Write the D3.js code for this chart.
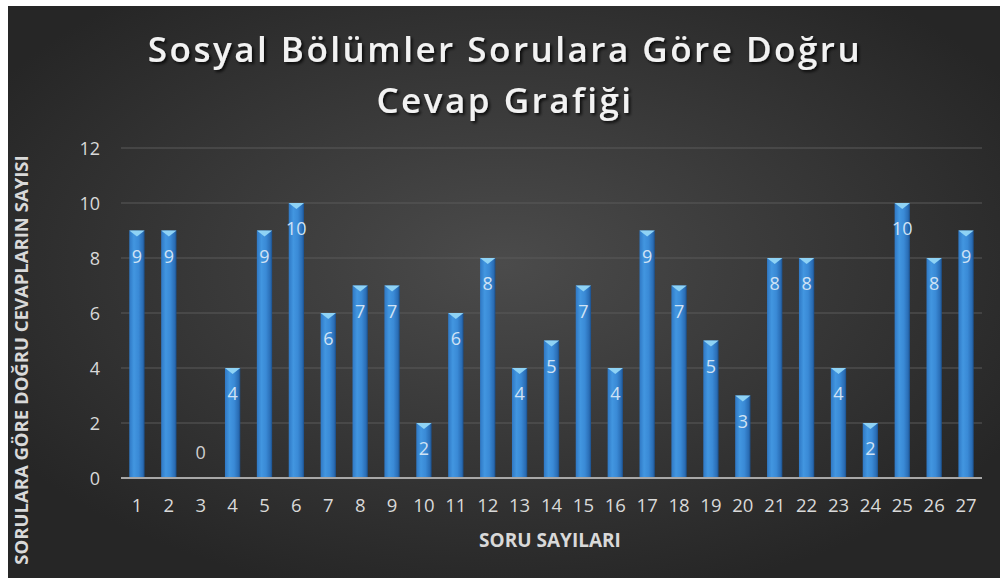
<!DOCTYPE html>
<html><head><meta charset="utf-8">
<script src="https://cdn.jsdelivr.net/npm/d3@7"></script>
<style>html,body{margin:0;padding:0;background:#fff;}svg{display:block;}</style>
</head><body>
<script>
const categories = ["1","2","3","4","5","6","7","8","9","10","11","12","13","14","15","16","17","18","19","20","21","22","23","24","25","26","27"];
const values = [9,9,0,4,9,10,6,7,7,2,6,8,4,5,7,4,9,7,5,3,8,8,4,2,10,8,9];
const yTicks = [0,2,4,6,8,10,12];
const titleLines = ["Sosyal Bölümler Sorulara Göre Doğru","Cevap Grafiği"];
const xTitle = "SORU SAYILARI";
const yTitle = "SORULARA GÖRE DOĞRU CEVAPLARIN SAYISI";

const W=1000,H=578;
const svg=d3.select("body").append("svg").attr("width",W).attr("height",H);
const defs=svg.append("defs");
const rg=defs.append("radialGradient").attr("id","bg").attr("cx","50%").attr("cy","45%").attr("r","60%");
rg.append("stop").attr("offset","0%").attr("stop-color","#4b4b4b");
rg.append("stop").attr("offset","100%").attr("stop-color","#262626");
const bg=defs.append("linearGradient").attr("id","bar").attr("x1","0").attr("x2","1").attr("y1","0").attr("y2","0");
[["0%","#2f78c4"],["30%","#4296e0"],["60%","#3a8ad6"],["88%","#2a6db5"],["100%","#1b4f8a"]].forEach(s=>bg.append("stop").attr("offset",s[0]).attr("stop-color",s[1]));
const sh=defs.append("filter").attr("id","tsh").attr("x","-10%").attr("y","-30%").attr("width","120%").attr("height","160%");
sh.append("feDropShadow").attr("dx",2).attr("dy",2).attr("stdDeviation",1.5).attr("flood-color","#000").attr("flood-opacity",0.8);

svg.append("rect").attr("x",8).attr("y",6).attr("width",W-8).attr("height",H-6).attr("fill","url(#bg)");

const x=d3.scaleBand().domain(categories).range([121,982]).paddingInner(0.52).paddingOuter(0.26);
const y=d3.scaleLinear().domain([0,12]).range([478,148]);
const font="'Open Sans',sans-serif";

// gridlines
svg.append("g").selectAll("line").data(yTicks.filter(t=>t>0)).join("line")
 .attr("x1",121).attr("x2",982).attr("y1",d=>y(d)).attr("y2",d=>y(d))
 .attr("stroke","#5a5a5a").attr("stroke-width",1);

// y axis
const ya=svg.append("g").attr("transform","translate(100,0)").call(d3.axisLeft(y).tickValues(yTicks).tickSize(0).tickPadding(0));
ya.select(".domain").remove();
ya.selectAll("text").attr("fill","#d9d9d9").attr("font-family",font).attr("font-size",18).attr("text-anchor","end").attr("dy","0.35em");

// bars
const bars=svg.append("g").selectAll("g").data(values.map((v,i)=>({c:categories[i],v}))).join("g");
bars.filter(d=>d.v>0).append("rect")
 .attr("x",d=>x(d.c)).attr("width",x.bandwidth())
 .attr("y",d=>y(d.v)).attr("height",d=>y(0)-y(d.v))
 .attr("fill","url(#bar)");
bars.filter(d=>d.v>0).append("path")
 .attr("d",d=>{const x0=x(d.c),bw=x.bandwidth(),t=y(d.v);return `M${x0},${t}L${x0+bw},${t}L${x0+bw/2},${t+6}Z`;})
 .attr("fill","#8fd3f5");
bars.append("text")
 .attr("x",d=>x(d.c)+x.bandwidth()/2)
 .attr("y",d=>y(d.v)+26)
 .attr("dy","0.35em")
 .attr("text-anchor","middle")
 .attr("fill",d=>d.v>0?"#cfe2f5":"#d0d0d0")
 .attr("font-family",font).attr("font-size",18)
 .text(d=>d.v);
bars.filter(d=>d.v===0).select("text").attr("y",y(0)-25);

// baseline
svg.append("line").attr("x1",121).attr("x2",982).attr("y1",y(0)).attr("y2",y(0)).attr("stroke","#a8a8a8").attr("stroke-width",2);

// x axis
const xa=svg.append("g").attr("transform","translate(0,"+y(0)+")").call(d3.axisBottom(x).tickSize(0).tickPadding(21));
xa.select(".domain").remove();
xa.selectAll("text").attr("fill","#d9d9d9").attr("font-family",font).attr("font-size",18.5);

// axis titles
svg.append("text").attr("x",550).attr("y",547).attr("text-anchor","middle")
 .attr("fill","#d9d9d9").attr("font-family",font).attr("font-weight","bold").attr("font-size",19).text(xTitle);
svg.append("text").attr("transform","translate(22,360) rotate(-90)").attr("text-anchor","middle").attr("dy","0.35em")
 .attr("fill","#d9d9d9").attr("font-family",font).attr("font-weight","bold").attr("font-size",18.5).text(yTitle);

// title
svg.append("g").attr("filter","url(#tsh)").selectAll("text").data(titleLines).join("text")
 .attr("x",505).attr("y",(d,i)=>62+i*51).attr("text-anchor","middle")
 .attr("fill","#f2f2f2").attr("font-family",font).attr("font-weight","600")
 .attr("font-size",35).attr("letter-spacing",2.5).text(d=>d);
</script>
</body></html>
